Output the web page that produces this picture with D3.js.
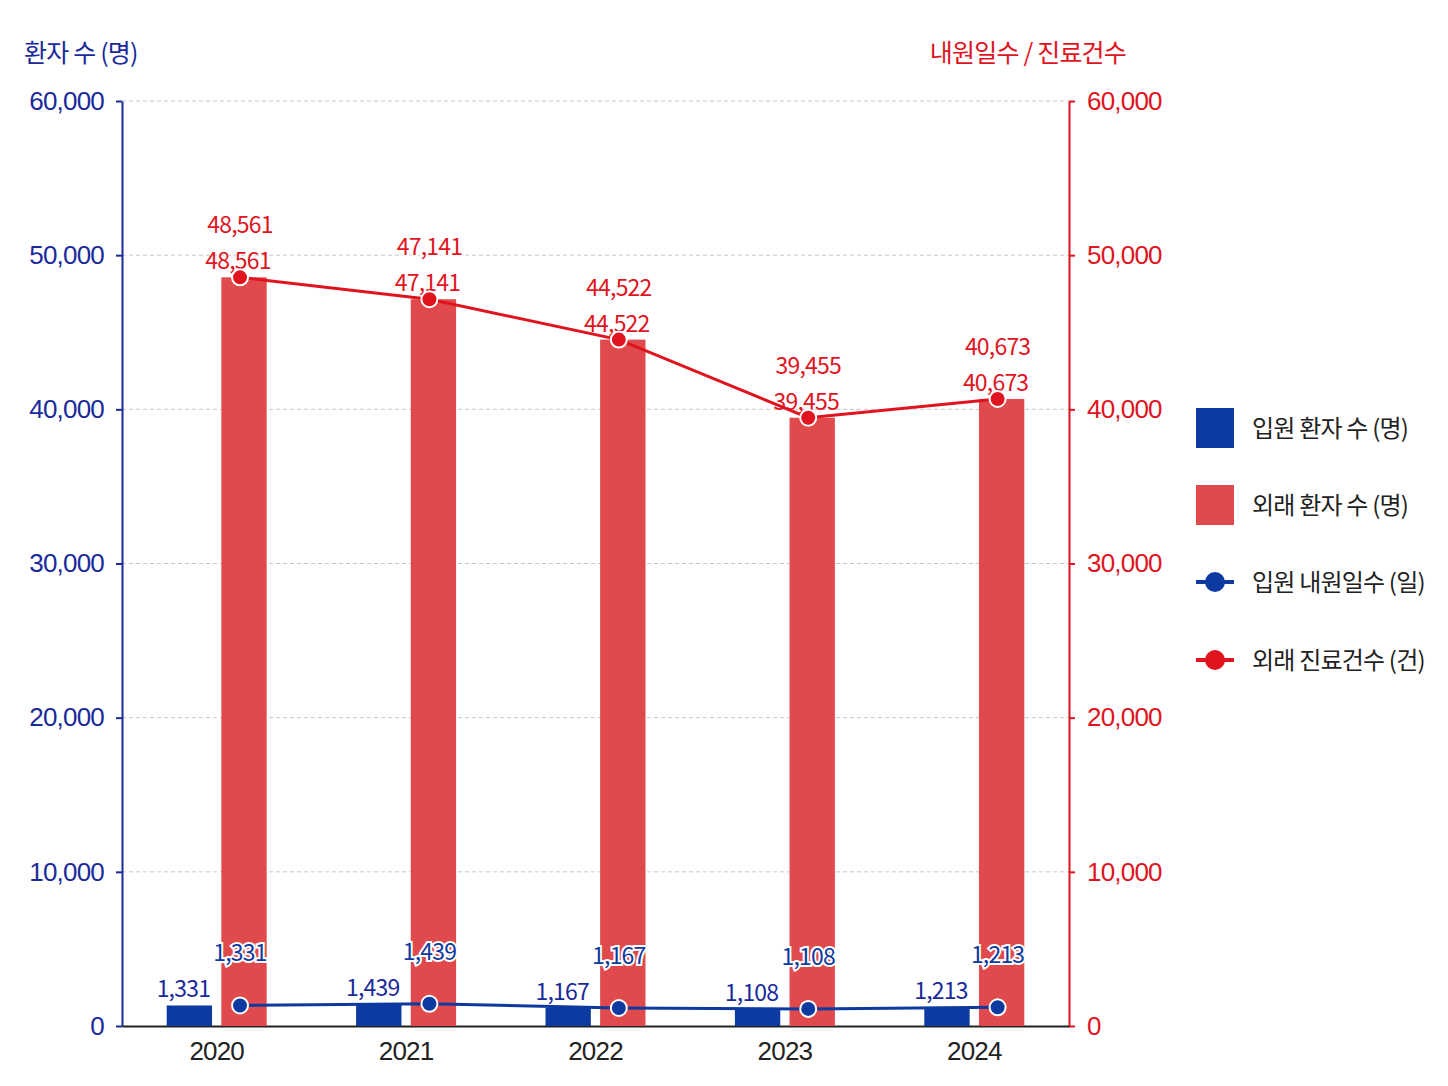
<!DOCTYPE html>
<html><head><meta charset="utf-8">
<script src="https://cdn.jsdelivr.net/npm/d3@7"></script>
<style>
body{margin:0;background:#fff;font-family:"Noto Sans CJK KR","Noto Sans",sans-serif;}
text{letter-spacing:-0.8px;}
</style></head><body>
<svg id="chart" width="1448" height="1086"></svg>
<script>
// 데이터
var years = ["2020", "2021", "2022", "2023", "2024"];
var inPatients = [1331, 1439, 1167, 1108, 1213];
var outPatients = [48561, 47141, 44522, 39455, 40673];
var inDays = [1331, 1439, 1167, 1108, 1213];
var outVisits = [48561, 47141, 44522, 39455, 40673];
var ticks = [0, 10000, 20000, 30000, 40000, 50000, 60000];
var legendNames = ["입원 환자 수 (명)", "외래 환자 수 (명)", "입원 내원일수 (일)", "외래 진료건수 (건)"];

var BLUE = "#0d3aa0", RED = "#e04a4c", LRED = "#e0141e", TBLUE = "#1a2a9a";
var pLeft = 122, pRight = 1069, pTop = 101, pBottom = 1026;
var svg = d3.select("#chart");
var fmt = d3.format(",");

var x = d3.scaleBand().domain(years).range([pLeft, pRight]);
var sub = d3.scaleBand().domain(["in", "out"]).range([-50, 50]).paddingInner(0.17);
var yL = d3.scaleLinear().domain([0, 60000]).range([pBottom, pTop]);
var yR = d3.scaleLinear().domain([0, 60000]).range([pBottom, pTop]);

// grid
svg.append("g").selectAll("line").data(ticks.slice(1)).enter().append("line")
  .attr("x1", pLeft).attr("x2", pRight).attr("y1", d => yL(d)).attr("y2", d => yL(d))
  .attr("stroke", "#c8c8c8").attr("stroke-dasharray", "4,3");

// axes
var aL = svg.append("g").attr("transform", "translate(" + pLeft + ",0)")
  .call(d3.axisLeft(yL).tickValues(ticks).tickFormat(fmt).tickSize(6).tickPadding(12).tickSizeOuter(0));
aL.selectAll("line,path").attr("stroke", TBLUE).attr("stroke-width", 2);
aL.selectAll("text").attr("fill", TBLUE).style("font-size", "26px").style("font-family", "inherit");
var aR = svg.append("g").attr("transform", "translate(" + pRight + ",0)")
  .call(d3.axisRight(yR).tickValues(ticks).tickFormat(fmt).tickSize(6).tickPadding(12).tickSizeOuter(0));
aR.selectAll("line,path").attr("stroke", LRED).attr("stroke-width", 2);
aR.selectAll("text").attr("fill", LRED).style("font-size", "26px").style("font-family", "inherit");
var aB = svg.append("g").attr("transform", "translate(0," + pBottom + ")")
  .call(d3.axisBottom(x).tickSize(0).tickPadding(16).tickSizeOuter(0));
aB.select("path").attr("stroke", "#222").attr("stroke-width", 2);
aB.selectAll("text").attr("fill", "#222").style("font-size", "26px").style("font-family", "inherit");

svg.append("text").attr("x", 24).attr("y", 62).attr("fill", TBLUE).style("font-size", "25px").text("환자 수 (명)");
svg.append("text").attr("x", 1126).attr("y", 62).attr("text-anchor", "end").attr("fill", LRED).style("font-size", "25px").text("내원일수 / 진료건수");

var cx = d => x(d) + x.bandwidth() / 2;
// bars
svg.append("g").selectAll("rect").data(years).enter().append("rect")
  .attr("x", (d) => cx(d) + sub("in")).attr("width", sub.bandwidth())
  .attr("y", (d, i) => yL(inPatients[i])).attr("height", (d, i) => pBottom - yL(inPatients[i]))
  .attr("fill", BLUE);
svg.append("g").selectAll("rect").data(years).enter().append("rect")
  .attr("x", (d) => cx(d) + sub("out")).attr("width", sub.bandwidth())
  .attr("y", (d, i) => yL(outPatients[i])).attr("height", (d, i) => pBottom - yL(outPatients[i]))
  .attr("fill", RED);

// bar labels
svg.append("g").selectAll("text").data(years).enter().append("text")
  .attr("x", d => cx(d) + sub("in") + sub.bandwidth() / 2 - 6)
  .attr("y", (d, i) => yL(inPatients[i]) - 8).attr("text-anchor", "middle")
  .attr("fill", TBLUE).style("font-size", "23px").text((d, i) => fmt(inPatients[i]));
svg.append("g").selectAll("text").data(years).enter().append("text")
  .attr("x", d => cx(d) + sub("out") + sub.bandwidth() / 2 - 6)
  .attr("y", (d, i) => yL(outPatients[i]) - 8).attr("text-anchor", "middle")
  .attr("fill", LRED).style("font-size", "23px").text((d, i) => fmt(outPatients[i]));

// lines
var px = d => cx(d) + sub("out") + sub.bandwidth() / 2 - 4;
function drawLine(vals, color, dy) {
  var line = d3.line().x((d, i) => px(years[i])).y(d => yR(d));
  svg.append("path").datum(vals).attr("d", line).attr("fill", "none").attr("stroke", color).attr("stroke-width", 3);
  svg.append("g").selectAll("circle").data(vals).enter().append("circle")
    .attr("cx", (d, i) => px(years[i])).attr("cy", d => yR(d)).attr("r", 8)
    .attr("fill", color).attr("stroke", "#fff").attr("stroke-width", 2);
  svg.append("g").selectAll("text").data(vals).enter().append("text")
    .attr("x", (d, i) => px(years[i])).attr("y", d => yR(d) - dy).attr("text-anchor", "middle")
    .attr("fill", color).attr("stroke", "#fff").attr("stroke-width", 4).attr("paint-order", "stroke")
    .style("font-size", "23px").text(d => fmt(d));
}
drawLine(outVisits, LRED, 44);
drawLine(inDays, BLUE, 44);

// legend
var lg = svg.append("g").attr("transform", "translate(1196,0)");
var ly = [428, 505, 582, 660];
lg.append("rect").attr("x", 0).attr("y", ly[0] - 20).attr("width", 38).attr("height", 40).attr("fill", BLUE);
lg.append("rect").attr("x", 0).attr("y", ly[1] - 20).attr("width", 38).attr("height", 40).attr("fill", RED);
[[2, BLUE], [3, LRED]].forEach(function (p) {
  lg.append("line").attr("x1", 0).attr("x2", 38).attr("y1", ly[p[0]]).attr("y2", ly[p[0]]).attr("stroke", p[1]).attr("stroke-width", 4);
  lg.append("circle").attr("cx", 19).attr("cy", ly[p[0]]).attr("r", 10).attr("fill", p[1]);
});
lg.selectAll("text").data(legendNames).enter().append("text")
  .attr("x", 56).attr("y", (d, i) => ly[i] + 9).attr("fill", "#222").style("font-size", "24px").text(d => d);
</script>
</body></html>
